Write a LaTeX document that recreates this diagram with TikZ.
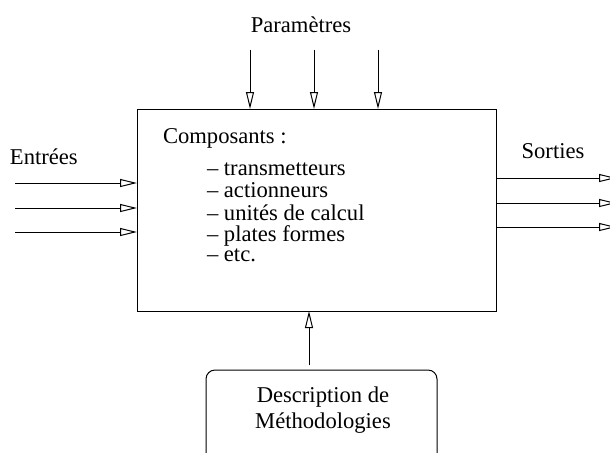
\documentclass[tikz,border=0pt]{standalone}
\usepackage{fontspec}
\setmainfont{Liberation Serif}
\usetikzlibrary{arrows.meta}
\begin{document}
\begin{tikzpicture}[x=0.5pt,y=-0.5pt,
  every node/.style={inner sep=0pt,outer sep=0pt,font=\fontsize{11.3}{13}\selectfont},
  conn/.style={line width=0.5pt,-{Triangle[open,length=8.5pt,width=4pt]}},
  frame/.style={draw,line width=0.5pt}]
\useasboundingbox (0,0) rectangle (610,452);
\clip (0,0) rectangle (610,452);
% main box
\node[frame,minimum width=179.5pt,minimum height=101pt] (box) at (316.5,210) {};
% description box
\node[frame,rounded corners=4.5pt,minimum width=115.5pt,minimum height=60pt,anchor=north west] (desc) at (206,370) {};
% texts
\node[anchor=base] (param) at (301,32) {Paramètres};
\node[anchor=base west] (ent) at (10,164) {Entrées};
\node[anchor=base] (sort) at (553,158) {Sorties};
\node[anchor=base west] (comp) at (163,143) {Composants :};
\node[anchor=base west] (l1) at (207,175) {– transmetteurs};
\node[anchor=base west] (l2) at (207,197) {– actionneurs};
\node[anchor=base west] (l3) at (207,220) {– unités de calcul};
\node[anchor=base west] (l4) at (207,241) {– plates formes};
\node[anchor=base west] (l5) at (207,261) {– etc.};
\node[anchor=base] (d1) at (323,402) {Description de};
\node[anchor=base] (d2) at (323,428) {Méthodologies};
% parameter arrows
\foreach \x [count=\i] in {250,314,378} {
  \coordinate (ps\i) at (\x,50);
  \draw[conn] (ps\i) -- (ps\i |- box.north);
}
% inputs
\foreach \y [count=\i] in {183,208,232} {
  \coordinate (es\i) at (15,\y);
  \draw[conn] (es\i) -- (es\i -| box.west);
}
% outputs
\foreach \y [count=\i] in {178,203,227} {
  \coordinate (ss\i) at (616,\y);
  \draw[conn] (ss\i -| box.east) -- (ss\i);
}
% methodology arrow
\coordinate (ms) at (309,365);
\draw[conn] (ms) -- (ms |- box.south);
\end{tikzpicture}
\end{document}
